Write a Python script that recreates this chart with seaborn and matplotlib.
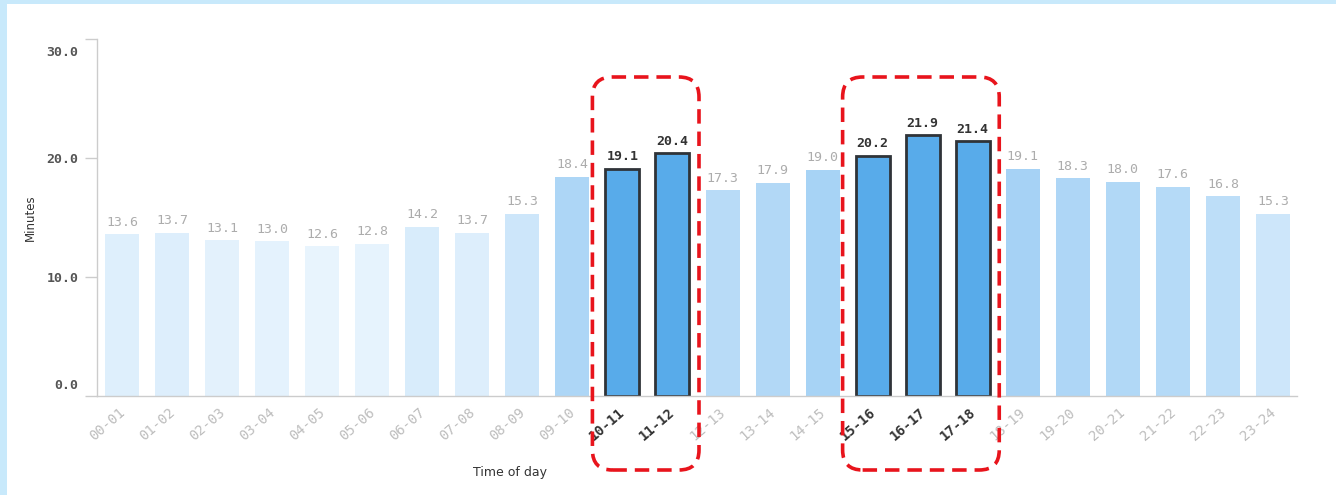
import numpy as np
import matplotlib
matplotlib.use("Agg")
import matplotlib.pyplot as plt
import matplotlib.colors as mcolors
from matplotlib.patches import FancyBboxPatch, Rectangle
from matplotlib.transforms import IdentityTransform, ScaledTranslation
import seaborn as sns

# data
hours = ["00-01", "01-02", "02-03", "03-04", "04-05", "05-06", "06-07", "07-08",
         "08-09", "09-10", "10-11", "11-12", "12-13", "13-14", "14-15", "15-16",
         "16-17", "17-18", "18-19", "19-20", "20-21", "21-22", "22-23", "23-24"]
minutes = [13.6, 13.7, 13.1, 13.0, 12.6, 12.8, 14.2, 13.7, 15.3, 18.4, 19.1, 20.4,
           17.3, 17.9, 19.0, 20.2, 21.9, 21.4, 19.1, 18.3, 18.0, 17.6, 16.8, 15.3]
peak_groups = [["10-11", "11-12"], ["15-16", "16-17", "17-18"]]

peak = [h for g in peak_groups for h in g]

sns.set_theme(style="white")
plt.rcParams["font.family"] = ["DejaVu Sans"]

# light bars get darker with the value, peak bars are solid blue
light = mcolors.to_rgb("#e8f4fd")
dark = mcolors.to_rgb("#a6d2f5")
lo, hi = min(minutes), 19.1
colors = []
for h, v in zip(hours, minutes):
    if h in peak:
        colors.append("#58abea")
    else:
        t = min(max((v - lo) / (hi - lo), 0), 1)
        colors.append(tuple(a + (b - a) * t for a, b in zip(light, dark)))

fig = plt.figure(figsize=(13.36, 4.95), dpi=100)
fig.patch.set_facecolor("#c8e9fb")
fig.patches.append(Rectangle((7 / 1336, 0), 1, 1 - 4 / 495, transform=fig.transFigure,
                             facecolor="white", edgecolor="none", zorder=-1))
ax = fig.add_axes([97 / 1336, 1 - 396 / 495, 1200 / 1336, 357 / 495])
ax.set_facecolor("none")

sns.barplot(x=hours, y=minutes, hue=hours, palette=colors, legend=False,
            width=0.68, ax=ax, saturation=1)

for patch, h in zip(ax.patches, hours):
    if h in peak:
        patch.set_edgecolor("#2f3338")
        patch.set_linewidth(2)
    else:
        patch.set_edgecolor("none")

for cont, h in zip(ax.containers, hours):
    is_peak = h in peak
    ax.bar_label(cont, fmt="%.1f", padding=4, fontsize=9.5,
                 family="DejaVu Sans Mono",
                 color="#333333" if is_peak else "#acacac",
                 fontweight="bold" if is_peak else "normal")

ax.set_xlim(-0.5, 23.48)
ax.set_ylim(0, 30)
ax.set_yticks([0, 10, 20, 30])
ax.set_yticklabels(["0.0", "10.0", "20.0", "30.0"], family="DejaVu Sans Mono",
                   fontsize=9.5, color="#555555", fontweight="bold")
ax.tick_params(axis="y", length=8.5, color="#cccccc", width=1, pad=5, left=True)
ax.tick_params(axis="x", length=0, pad=7)

# end labels of the y axis sit a little inside the axis range
ylabels = ax.get_yticklabels()
ylabels[0].set_transform(ylabels[0].get_transform() +
                         ScaledTranslation(0, 12 / 100, fig.dpi_scale_trans))
ylabels[-1].set_transform(ylabels[-1].get_transform() +
                          ScaledTranslation(0, -12 / 100, fig.dpi_scale_trans))

ax.set_xticks(range(len(hours)))
ax.set_xticklabels(hours, rotation=41, ha="right", rotation_mode="anchor",
                   family="DejaVu Sans Mono", fontsize=10)
for lbl in ax.get_xticklabels():
    lbl.set_transform(lbl.get_transform() +
                      ScaledTranslation(-4 / 100, 0, fig.dpi_scale_trans))
    if lbl.get_text() in peak:
        lbl.set_color("#333333")
        lbl.set_fontweight("bold")
    else:
        lbl.set_color("#bdbdbd")

for side in ["top", "right"]:
    ax.spines[side].set_visible(False)
ax.spines["left"].set_color("#cccccc")
ax.spines["bottom"].set_color("#cccccc")
ax.spines["left"].set_linewidth(1)
ax.spines["bottom"].set_linewidth(1)

ax.set_ylabel("Minutes", fontsize=8.5, color="#333333")
ax.yaxis.set_label_coords(-0.05, 0.5)
ax.set_xlabel("Time of day", fontsize=9, color="#333333")
ax.xaxis.set_label_coords(0.344, -0.195)

# red dashed rounded frames around the peak hours
fig.canvas.draw()
for g in peak_groups:
    i0, i1 = hours.index(g[0]), hours.index(g[-1])
    x0, _ = ax.transData.transform((i0 - 0.6, 0))
    x1, _ = ax.transData.transform((i1 + 0.53, 0))
    ytop = 495 - 77
    ybot = 495 - 470
    box = FancyBboxPatch((x0, ybot), x1 - x0, ytop - ybot,
                         boxstyle="round,pad=0,rounding_size=20",
                         transform=IdentityTransform(), fill=False,
                         edgecolor="#e8141c", linewidth=2.6,
                         linestyle=(0, (4, 2.2)), clip_on=False, zorder=10)
    fig.patches.append(box)

fig.savefig("out.png", dpi=100, facecolor=fig.get_facecolor())
